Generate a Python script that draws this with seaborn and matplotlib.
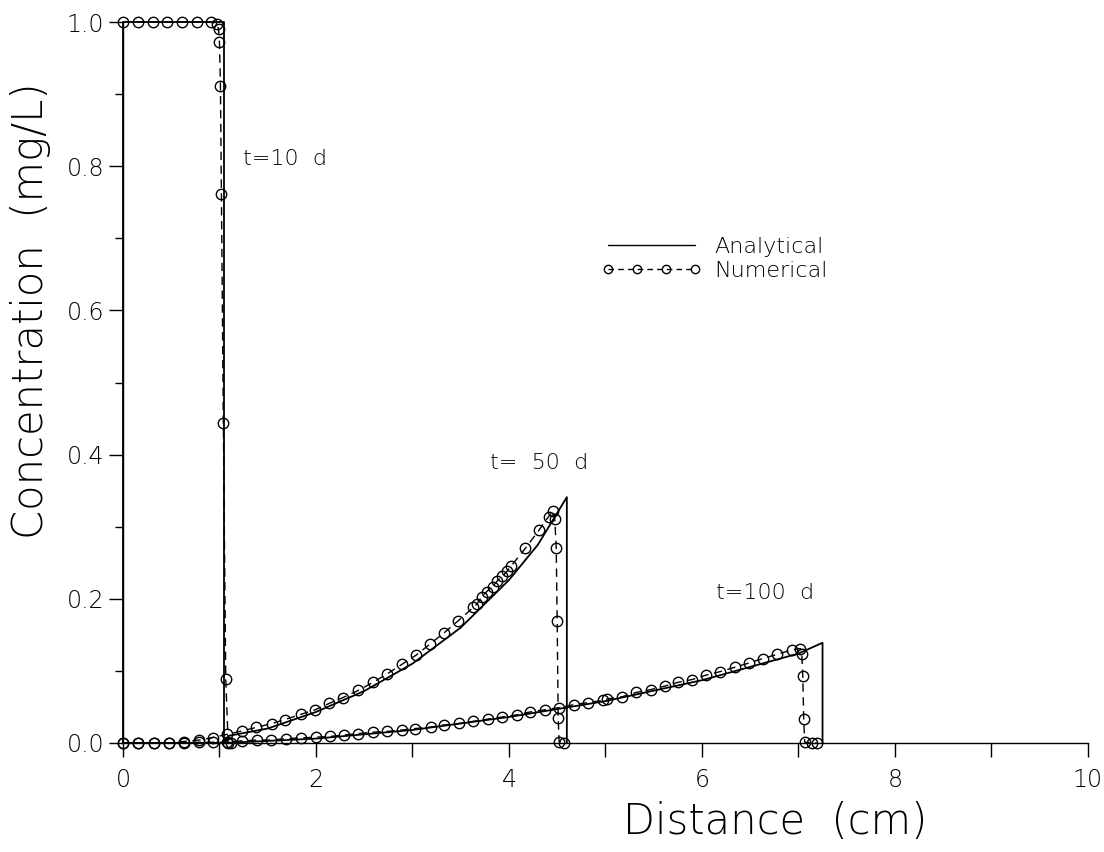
import matplotlib
matplotlib.use("Agg")
import matplotlib.pyplot as plt
import seaborn as sns
from matplotlib.lines import Line2D
from matplotlib.ticker import MultipleLocator

# analytical solutions
ana10_x = [0.0, 0.0, 1.05, 1.05]
ana10_y = [0.0, 1.0, 1.0, 0.0]
ana50_x = [0.0, 1.05, 1.1, 1.5, 2.0, 2.5, 3.0, 3.5, 4.0, 4.3, 4.6, 4.6]
ana50_y = [0.0, 0.0, 0.01, 0.02, 0.043, 0.072, 0.11, 0.16, 0.226, 0.275, 0.341, 0.0]
ana100_x = [0.0, 1.05, 2.0, 3.0, 4.0, 5.0, 6.0, 7.0, 7.25, 7.25]
ana100_y = [0.0, 0.0, 0.006, 0.018, 0.036, 0.058, 0.087, 0.124, 0.139, 0.0]

# numerical solutions
num10_x = [0.0, 0.155, 0.31, 0.46, 0.61, 0.765, 0.915, 0.97, 0.99, 1.0, 1.01,
           1.02, 1.04, 1.065, 1.09, 1.12]
num10_y = [1.0, 1.0, 1.0, 1.0, 1.0, 1.0, 1.0, 0.998, 0.991, 0.972, 0.912,
           0.762, 0.444, 0.089, 0.0, 0.0]
num50_x = [0.0, 0.16, 0.32, 0.48, 0.63, 0.79, 0.93,
           1.08, 1.23, 1.38, 1.54, 1.68, 1.84, 1.99, 2.14, 2.28, 2.44, 2.59, 2.74, 2.89, 3.04, 3.18,
           3.33, 3.47, 3.63, 3.67, 3.72, 3.77, 3.83, 3.88, 3.93, 3.98, 4.02,
           4.17, 4.31, 4.41, 4.46, 4.475, 4.49, 4.50, 4.51, 4.52, 4.57]
num50_y = [0.0, 0.0, 0.0, 0.0, 0.002, 0.004, 0.0075,
           0.012, 0.0165, 0.0216, 0.0268, 0.0325, 0.0395, 0.046, 0.055, 0.063, 0.073, 0.084, 0.096, 0.109, 0.122, 0.137,
           0.153, 0.169, 0.188, 0.193, 0.203, 0.210, 0.217, 0.225, 0.231, 0.238, 0.245,
           0.270, 0.295, 0.314, 0.322, 0.310, 0.271, 0.169, 0.035, 0.002, 0.0]
num100_x = [0.0, 0.16, 0.32, 0.48, 0.63, 0.79, 0.93,
            1.08, 1.23, 1.385, 1.535, 1.69, 1.84, 2.0, 2.145, 2.29, 2.44, 2.59, 2.74, 2.89, 3.03, 3.19,
            3.33, 3.48, 3.63, 3.78, 3.93, 4.08, 4.22, 4.37, 4.52, 4.67, 4.82, 4.97, 5.02, 5.17, 5.32, 5.47, 5.62,
            5.75, 5.9, 6.04, 6.19, 6.34, 6.49, 6.63, 6.78, 6.93, 7.02,
            7.035, 7.045, 7.055, 7.065, 7.14, 7.19]
num100_y = [0.0, 0.0, 0.0, 0.0, 0.0, 0.001, 0.001,
            0.001, 0.003, 0.004, 0.004, 0.006, 0.007, 0.008, 0.009, 0.011, 0.013, 0.015, 0.016, 0.018, 0.020, 0.022,
            0.025, 0.027, 0.030, 0.033, 0.036, 0.039, 0.043, 0.046, 0.049, 0.053, 0.056, 0.059, 0.061, 0.064, 0.070, 0.074, 0.079,
            0.084, 0.088, 0.094, 0.099, 0.105, 0.111, 0.117, 0.123, 0.129, 0.131,
            0.124, 0.093, 0.033, 0.001, 0.0, 0.0]

labels = [("t=10  d", 1.24, 0.81), ("t=  50  d", 3.80, 0.389), ("t=100  d", 6.15, 0.208)]

sns.set_style("ticks")
plt.rcParams['font.family'] = ['DejaVu Sans']
plt.rcParams['font.weight'] = 'light'
plt.rcParams['text.color'] = 'k'
plt.rcParams['axes.labelcolor'] = 'k'

fig = plt.figure(figsize=(11.04, 8.52), dpi=100)
ax = fig.add_axes([0.1114, 0.128, 0.874, 0.846])

dash = (0, (6, 4))
for xs, ys in [(ana10_x, ana10_y), (ana50_x, ana50_y), (ana100_x, ana100_y)]:
    sns.lineplot(x=xs, y=ys, ax=ax, sort=False, estimator=None, color='k', lw=1.3, clip_on=False)
for xs, ys in [(num10_x, num10_y), (num50_x, num50_y), (num100_x, num100_y)]:
    sns.lineplot(x=xs, y=ys, ax=ax, sort=False, estimator=None, color='k', lw=1.0,
                 linestyle=dash, marker='o', markersize=7.5, markerfacecolor='none',
                 markeredgecolor='k', markeredgewidth=1.0, clip_on=False)

for txt, tx, ty in labels:
    ax.text(tx, ty, txt, fontsize=16, va='center', ha='left', color='k')

ax.set_xlim(0, 10)
ax.set_ylim(0, 1.0)
ax.xaxis.set_major_locator(MultipleLocator(2))
ax.xaxis.set_minor_locator(MultipleLocator(1))
ax.yaxis.set_major_locator(MultipleLocator(0.2))
ax.yaxis.set_minor_locator(MultipleLocator(0.1))
ax.yaxis.set_major_formatter(matplotlib.ticker.FormatStrFormatter('%.1f'))
ax.tick_params(which='both', direction='out', length=10, width=1, labelsize=17, colors='k')
ax.tick_params(axis='y', which='minor', length=6)
ax.tick_params(axis='x', which='major', pad=8)
for s in ['top', 'right']:
    ax.spines[s].set_visible(False)
for s in ['left', 'bottom']:
    ax.spines[s].set_color('k')
    ax.spines[s].set_linewidth(1.0)

ax.set_xlabel("Distance  (cm)", fontsize=30, fontweight='light')
ax.set_ylabel("Concentration  (mg/L)", fontsize=30, fontweight='light')
ax.xaxis.set_label_coords(0.676, -0.08)
ax.yaxis.set_label_coords(-0.075, 0.6)

handles = [Line2D([], [], color='k', lw=1.0),
           Line2D([], [], color='k', lw=1.0, linestyle=(0, (4, 3)), marker='o', markersize=6,
                  markerfacecolor='none', markeredgecolor='k')]
ax.legend(handles, ["Analytical", "Numerical"], loc='upper left', bbox_to_anchor=(0.475, 0.73),
          frameon=False, fontsize=16, handlelength=4.5, numpoints=4, labelspacing=0.2,
          handletextpad=0.6, labelcolor='k')

fig.savefig("out.png", dpi=100)
